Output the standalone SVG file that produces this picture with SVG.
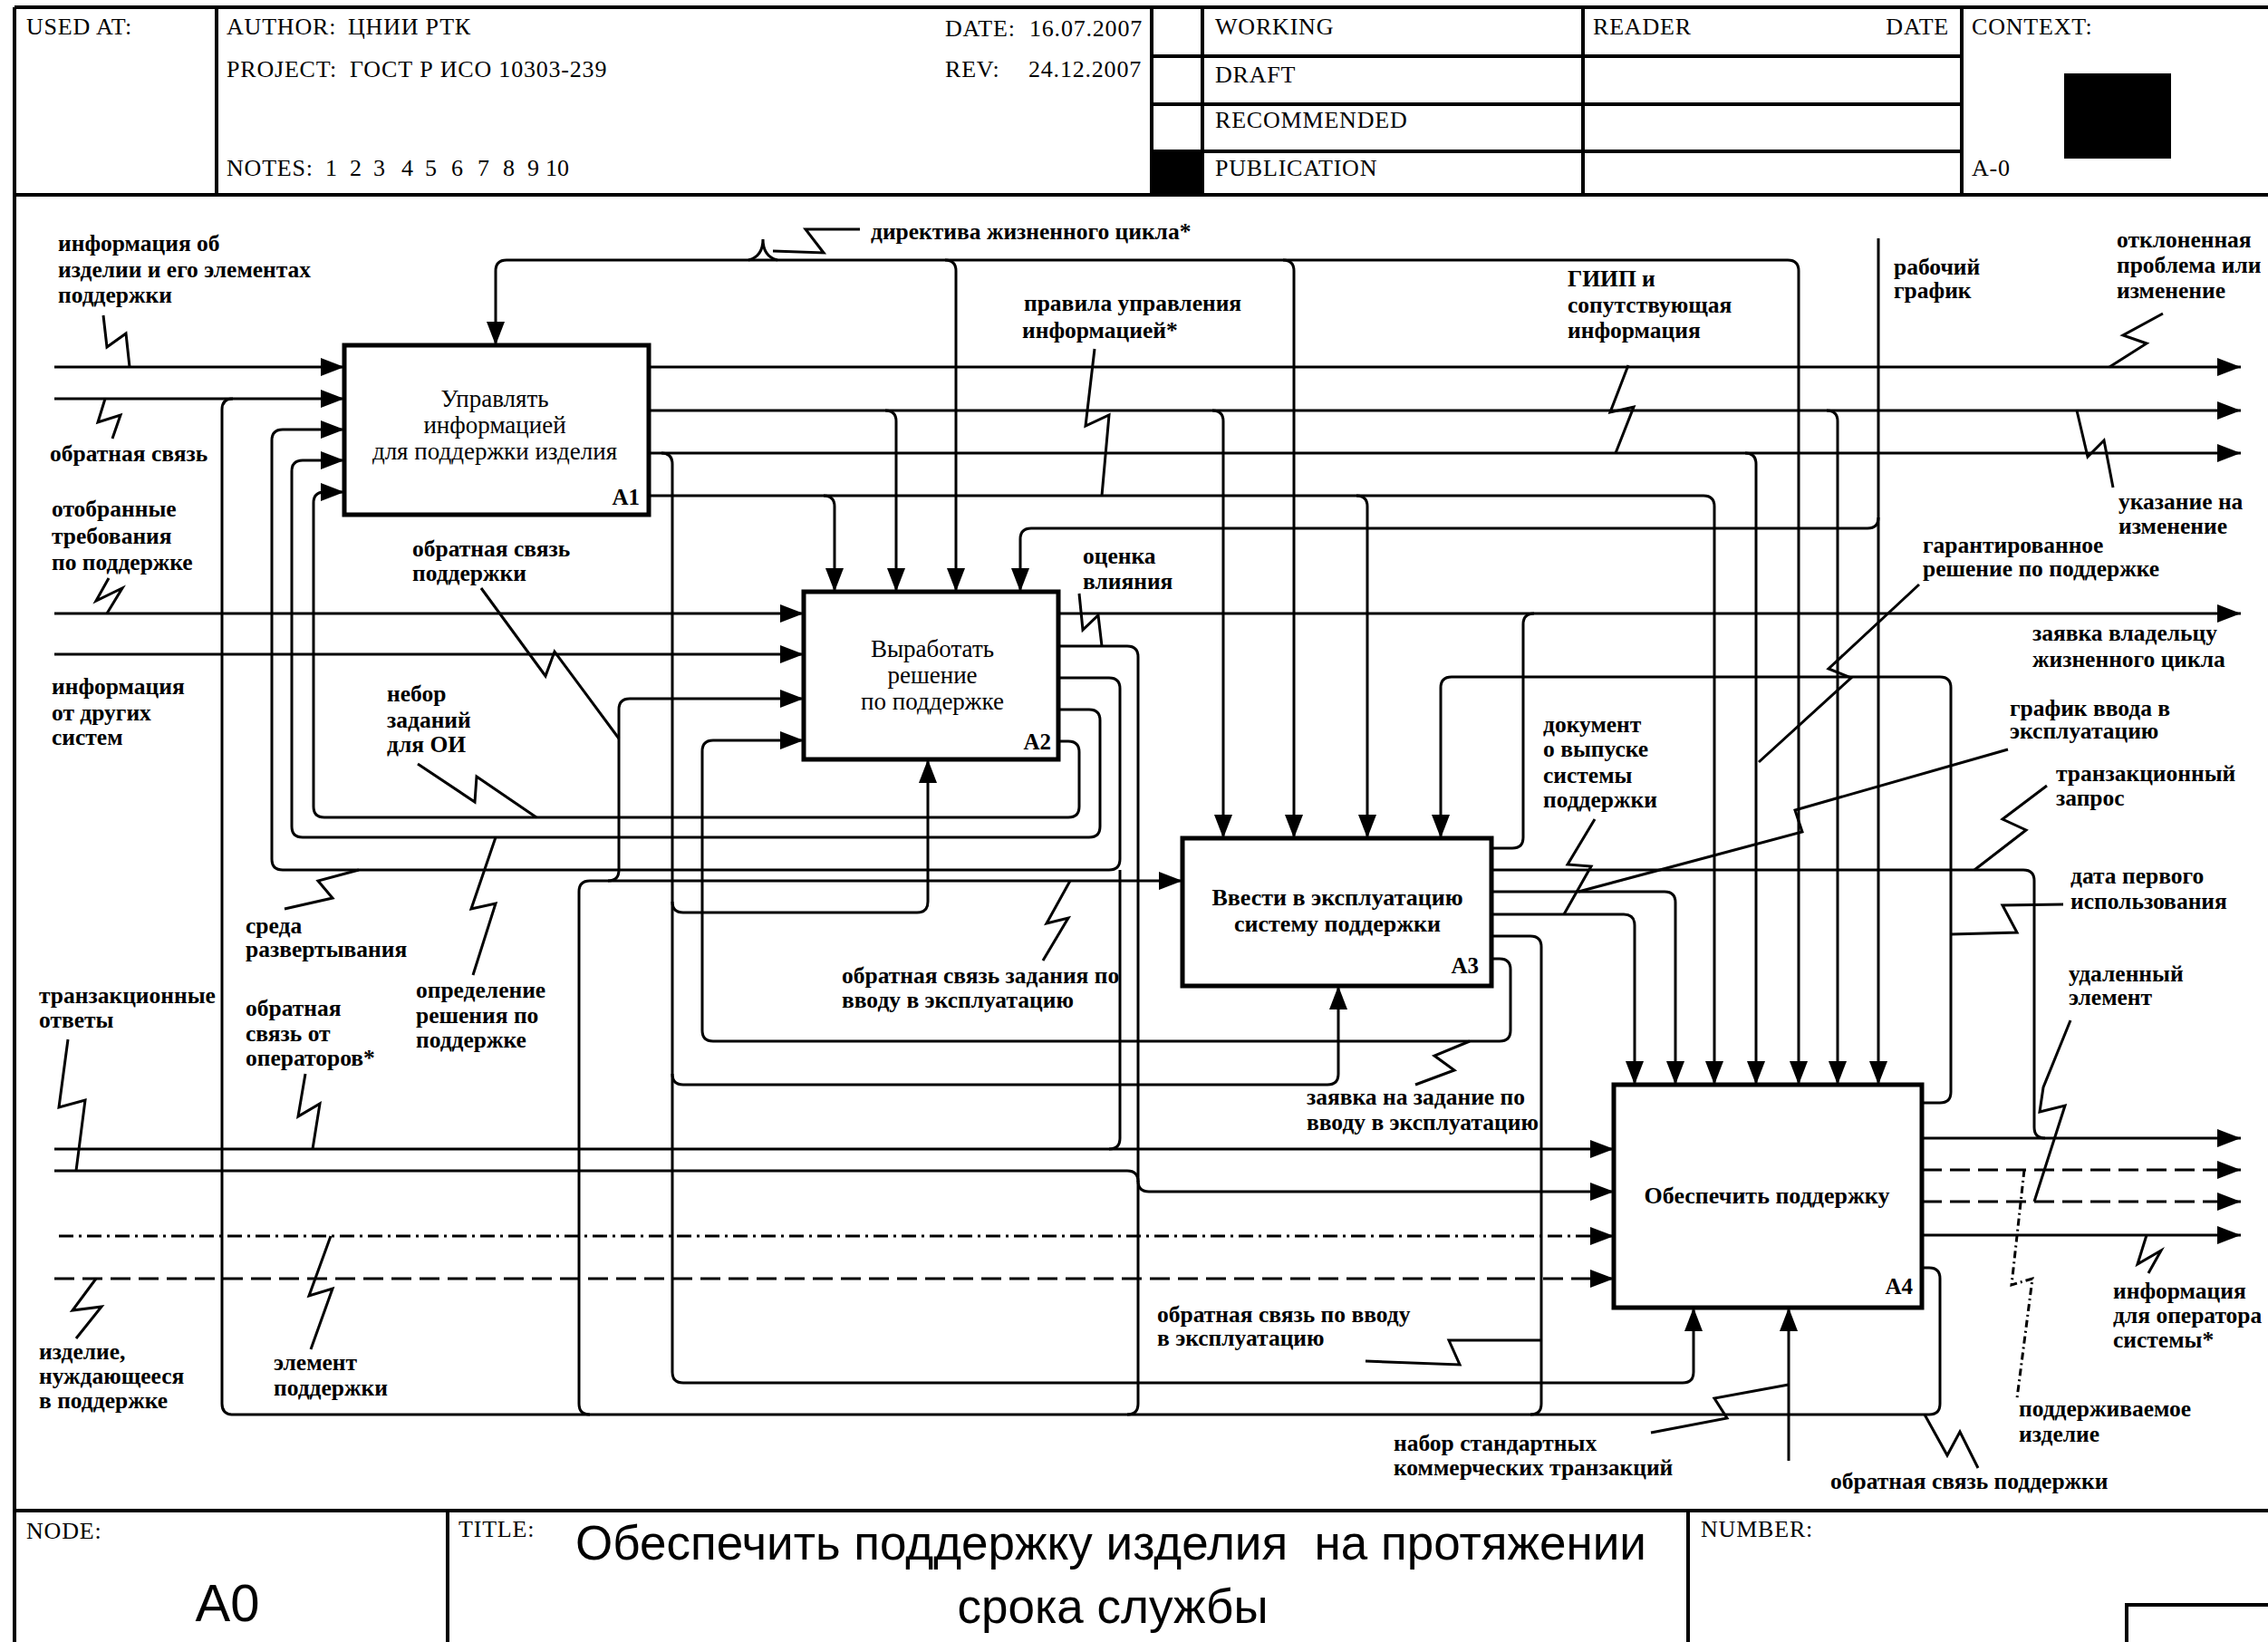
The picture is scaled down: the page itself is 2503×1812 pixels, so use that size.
<svg xmlns="http://www.w3.org/2000/svg" width="2503" height="1812" viewBox="0 0 2503 1812">
<defs>
<marker id="ah" viewBox="0 0 26 20" refX="26" refY="10" markerWidth="26" markerHeight="20" markerUnits="userSpaceOnUse" orient="auto"><path d="M0,0 L26,10 L0,20 z" fill="#000"/></marker>
<style>
.fr{fill:none;stroke:#000;stroke-width:4}
.ln{fill:none;stroke:#000;stroke-width:3}
.ar{fill:none;stroke:#000;stroke-width:3;marker-end:url(#ah)}
.sq{fill:none;stroke:#000;stroke-width:3;stroke-linejoin:miter}
.d1{stroke-dasharray:22 9}
.d2{stroke-dasharray:16 6 3 6}
.d3{stroke-dasharray:8 4 2 4}
.box{fill:#fff;stroke:#000;stroke-width:5}
.hd{font-family:"Liberation Serif",serif;font-size:26px;letter-spacing:0.8px;fill:#000}
.lb{font-family:"Liberation Serif",serif;font-size:25.5px;font-weight:bold;fill:#000}
.bx{font-family:"Liberation Serif",serif;font-size:27px;text-anchor:middle;fill:#000}
.bb{font-family:"Liberation Serif",serif;font-size:26px;font-weight:bold;text-anchor:middle;fill:#000}
.id{font-family:"Liberation Serif",serif;font-size:25px;font-weight:bold;text-anchor:end;fill:#000}
.ti{font-family:"Liberation Sans",Arial,sans-serif;font-size:53px;text-anchor:middle;fill:#000}
</style>
</defs>
<rect width="2503" height="1812" fill="#fff"/>

<g id="frame">
<path class="fr" d="M16,8 H2503 M16,8 V1812 M16,215 H2503 M239,8 V215 M1271,8 V215 M1327,8 V215 M1747,8 V215 M2165,8 V215 M1271,62 H2165 M1271,115 H2165 M1271,167 H2165"/>
<rect x="1271" y="167" width="56" height="48" fill="#000"/>
<rect x="2278" y="81" width="118" height="94" fill="#000"/>
<path class="fr" d="M16,1667 H2503 M494,1667 V1812 M1863,1667 V1812 M2347,1812 V1771 H2503"/>
<text class="hd" x="29" y="38">USED AT:</text>
<text class="hd" x="250" y="38">AUTHOR:</text>
<text class="hd" x="384" y="38">ЦНИИ РТК</text>
<text class="hd" x="250" y="85">PROJECT:</text>
<text class="hd" x="386" y="85">ГОСТ Р ИСО 10303-239</text>
<text class="hd" x="250" y="194">NOTES:</text>
<text class="hd" x="359 386 412 443 469 498 527 555 582 602 615" y="194">12345678910</text>
<text class="hd" x="1043" y="40">DATE:</text>
<text class="hd" x="1136" y="40">16.07.2007</text>
<text class="hd" x="1043" y="85">REV:</text>
<text class="hd" x="1135" y="85">24.12.2007</text>
<text class="hd" x="1341" y="38">WORKING</text>
<text class="hd" x="1341" y="91">DRAFT</text>
<text class="hd" x="1341" y="141">RECOMMENDED</text>
<text class="hd" x="1341" y="194">PUBLICATION</text>
<text class="hd" x="1758" y="38">READER</text>
<text class="hd" x="2151" y="38" text-anchor="end">DATE</text>
<text class="hd" x="2176" y="38">CONTEXT:</text>
<text class="hd" x="2176" y="194">A-0</text>
<text class="hd" x="29" y="1698">NODE:</text>
<text x="251" y="1789" font-family="Liberation Sans, Arial, sans-serif" font-size="58" text-anchor="middle">A0</text>
<text class="hd" x="506" y="1696">TITLE:</text>
<text class="ti" x="1226" y="1721" xml:space="preserve">Обеспечить поддержку изделия  на протяжении</text>
<text class="ti" x="1228" y="1791">срока службы</text>
<text class="hd" x="1877" y="1696">NUMBER:</text>
</g>

<g id="connectors">
<!-- A1 inputs -->
<path class="ar" d="M60,405 H380"/>
<path class="ar" d="M60,440 H380"/>
<path class="ln" d="M2121,1399 H2129 Q2141,1399 2141,1411 V1549 Q2141,1561 2129,1561 H257 Q245,1561 245,1549 V452 Q245,440 257,440"/>
<path class="ar" d="M1168,748 H1224 Q1236,748 1236,760 V948 Q1236,960 1224,960 H312 Q300,960 300,948 V486 Q300,474 312,474 H380"/>
<path class="ln" d="M1224,1268 Q1236,1268 1236,1256 V960"/>
<path class="ar" d="M60,1268 H1781"/>
<path class="ar" d="M1168,783 H1202 Q1214,783 1214,795 V912 Q1214,924 1202,924 H334 Q322,924 322,912 V520 Q322,508 334,508 H380"/>
<path class="ar" d="M1168,818 H1179 Q1191,818 1191,830 V890 Q1191,902 1179,902 H358 Q346,902 346,890 V555 Q346,543 358,543 H380"/>
<!-- A1 outputs -->
<path class="ar" d="M716,405 H2473"/>
<path class="ar" d="M716,453 H2473"/>
<path class="ar" d="M977,453 Q989,453 989,465 V653"/>
<path class="ar" d="M1338,453 Q1350,453 1350,465 V925"/>
<path class="ar" d="M2016,453 Q2028,453 2028,465 V1197"/>
<path class="ar" d="M716,500 H2473"/>
<path class="ar" d="M730,500 Q742,500 742,512 V1514 Q742,1526 754,1526 H1857 Q1869,1526 1869,1514 V1443"/>
<path class="ar" d="M742,995 Q742,1007 754,1007 H1012 Q1024,1007 1024,995 V838"/>
<path class="ar" d="M742,1185 Q742,1197 754,1197 H1465 Q1477,1197 1477,1185 V1088"/>
<path class="ar" d="M1926,500 Q1938,500 1938,512 V1197"/>
<path class="ar" d="M716,547 H1880 Q1892,547 1892,559 V1197"/>
<path class="ar" d="M909,547 Q921,547 921,559 V653"/>
<path class="ar" d="M1497,547 Q1509,547 1509,559 V925"/>
<!-- directive -->
<path class="ar" d="M559,287 H1973 Q1985,287 1985,299 V1197"/>
<path class="ar" d="M559,287 Q547,287 547,299 V381"/>
<path class="ar" d="M1043,287 Q1055,287 1055,299 V653"/>
<path class="ar" d="M1416,287 Q1428,287 1428,299 V925"/>
<!-- work schedule -->
<path class="ar" d="M2073,263 V1197"/>
<path class="ar" d="M2073,571 Q2073,583 2061,583 H1138 Q1126,583 1126,595 V653"/>
<!-- A2 -->
<path class="ar" d="M1168,677 H2473"/>
<path class="ln" d="M1646,936 H1669 Q1681,936 1681,924 V689 Q1681,677 1693,677"/>
<path class="ar" d="M60,677 H887"/>
<path class="ar" d="M60,722 H887"/>
<path class="ar" d="M651,1561 Q639,1561 639,1549 V984 Q639,972 651,972 H1305"/>
<path class="ar" d="M671,972 Q683,972 683,960 V783 Q683,771 695,771 H887"/>
<path class="ar" d="M1646,1058 H1655 Q1667,1058 1667,1070 V1137 Q1667,1149 1655,1149 H787 Q775,1149 775,1137 V829 Q775,817 787,817 H887"/>
<path class="ar" d="M1168,713 H1244 Q1256,713 1256,725 V1303 Q1256,1315 1268,1315 H1781"/>
<path class="ln" d="M1256,1303 V1549 Q1256,1561 1244,1561"/>
<path class="ln" d="M60,1292 H1244 Q1256,1292 1256,1304"/>
<!-- A3 outputs -->
<path class="ln" d="M1646,960 H2233 Q2245,960 2245,972 V1244 Q2245,1256 2257,1256"/>
<path class="ar" d="M1646,984 H1837 Q1849,984 1849,996 V1197"/>
<path class="ar" d="M1646,1009 H1792 Q1804,1009 1804,1021 V1197"/>
<path class="ln" d="M1646,1033 H1689 Q1701,1033 1701,1045 V1549 Q1701,1561 1689,1561"/>
<!-- A4 -->
<path class="ar" d="M2121,1217 H2141 Q2153,1217 2153,1205 V759 Q2153,747 2141,747 H1602 Q1590,747 1590,759 V925"/>
<path class="ar" d="M2121,1256 H2473"/>
<path class="ar d1" d="M2121,1291 H2473"/>
<path class="ar d1" d="M2121,1326 H2473"/>
<path class="ar" d="M2121,1363 H2473"/>
<path class="ar" d="M1974,1612 V1443"/>
<path class="ar d2" d="M65,1364 H1781"/>
<path class="ar d1" d="M60,1411 H1781"/>
<!-- squiggles -->
<polyline class="sq" points="114,348 118,383 139,368 143,405"/>
<polyline class="sq" points="124,484 133,458 108,466 116,440"/>
<polyline class="sq" points="120,638 106,663 135,649 118,677"/>
<polyline class="sq" points="531,649 602,746 612,719 683,815"/>
<polyline class="sq" points="461,843 524,885 526,857 592,902"/>
<polyline class="sq" points="547,924 520,1003 547,997 522,1076"/>
<polyline class="sq" points="396,960 351,972 367,991 314,1003"/>
<polyline class="sq" points="75,1147 65,1222 94,1214 84,1292"/>
<polyline class="sq" points="337,1185 329,1232 353,1218 345,1268"/>
<polyline class="sq" points="365,1364 341,1430 367,1422 343,1489"/>
<polyline class="sq" points="106,1411 80,1446 112,1442 84,1477"/>
<polyline class="sq" points="949,253 889,253 909,279 853,277"/>
<path class="sq" d="M826,287 Q842,283 842,264 Q842,283 858,287"/>
<polyline class="sq" points="1208,385 1198,470 1224,458 1216,547"/>
<polyline class="sq" points="1797,403 1777,455 1803,449 1783,500"/>
<polyline class="sq" points="2387,346 2343,370 2369,379 2328,405"/>
<polyline class="sq" points="2332,538 2322,486 2304,504 2292,453"/>
<polyline class="sq" points="1191,655 1195,695 1212,679 1216,713"/>
<polyline class="sq" points="2118,645 2018,738 2043,748 1941,841"/>
<polyline class="sq" points="2216,827 1981,894 1989,918 1742,984"/>
<polyline class="sq" points="2259,867 2210,904 2236,916 2179,960"/>
<polyline class="sq" points="2277,998 2210,999 2226,1029 2153,1031"/>
<polyline class="sq" points="1760,904 1730,954 1756,956 1726,1009"/>
<polyline class="sq" points="1622,1149 1583,1165 1605,1181 1562,1197"/>
<polyline class="sq" points="1181,972 1155,1019 1179,1013 1151,1060"/>
<polyline class="sq" points="1507,1502 1611,1506 1599,1479 1701,1479"/>
<polyline class="sq" points="1822,1581 1906,1565 1892,1543 1974,1528"/>
<polyline class="sq" points="2124,1561 2149,1606 2163,1580 2183,1620"/>
<polyline class="sq" points="2285,1126 2255,1200 2251,1227 2279,1220 2245,1326"/>
<polyline class="sq d3" points="2234,1291 2220,1418 2243,1411 2226,1543"/>
<polyline class="sq" points="2369,1363 2359,1395 2385,1380 2371,1405"/>
</g>

<g id="A1">
<rect class="box" x="380" y="381" width="336" height="187"/>
<text class="bx" x="546" y="449">Управлять</text>
<text class="bx" x="546" y="478">информацией</text>
<text class="bx" x="546" y="507">для поддержки изделия</text>
<text class="id" x="706" y="557">A1</text>
</g>
<g id="A2">
<rect class="box" x="887" y="653" width="281" height="185"/>
<text class="bx" x="1029" y="725">Выработать</text>
<text class="bx" x="1029" y="754">решение</text>
<text class="bx" x="1029" y="783">по поддержке</text>
<text class="id" x="1160" y="827">A2</text>
</g>
<g id="A3">
<rect class="box" x="1305" y="925" width="341" height="163"/>
<text class="bb" x="1476" y="999">Ввести в эксплуатацию</text>
<text class="bb" x="1476" y="1028">систему поддержки</text>
<text class="id" x="1632" y="1074">A3</text>
</g>
<g id="A4">
<rect class="box" x="1781" y="1197" width="340" height="246"/>
<text class="bb" x="1950" y="1328">Обеспечить поддержку</text>
<text class="id" x="2111" y="1428">A4</text>
</g>

<g id="labels">
<text class="lb" x="64" y="277">информация об</text>
<text class="lb" x="64" y="306">изделии и его элементах</text>
<text class="lb" x="64" y="334">поддержки</text>
<text class="lb" x="55" y="509">обратная связь</text>
<text class="lb" x="57" y="570">отобранные</text>
<text class="lb" x="57" y="600">требования</text>
<text class="lb" x="57" y="629">по поддержке</text>
<text class="lb" x="57" y="766">информация</text>
<text class="lb" x="57" y="795">от других</text>
<text class="lb" x="57" y="822">систем</text>
<text class="lb" x="455" y="614">обратная связь</text>
<text class="lb" x="455" y="641">поддержки</text>
<text class="lb" x="427" y="774">небор</text>
<text class="lb" x="427" y="803">заданий</text>
<text class="lb" x="427" y="830">для ОИ</text>
<text class="lb" x="271" y="1030">среда</text>
<text class="lb" x="271" y="1056">развертывания</text>
<text class="lb" x="43" y="1107">транзакционные</text>
<text class="lb" x="43" y="1134">ответы</text>
<text class="lb" x="271" y="1121">обратная</text>
<text class="lb" x="271" y="1149">связь от</text>
<text class="lb" x="271" y="1176">операторов*</text>
<text class="lb" x="459" y="1101">определение</text>
<text class="lb" x="459" y="1129">решения по</text>
<text class="lb" x="459" y="1156">поддержке</text>
<text class="lb" x="43" y="1500">изделие,</text>
<text class="lb" x="43" y="1527">нуждающееся</text>
<text class="lb" x="43" y="1554">в поддержке</text>
<text class="lb" x="302" y="1512">элемент</text>
<text class="lb" x="302" y="1540">поддержки</text>
<text class="lb" x="961" y="264">директива жизненного цикла*</text>
<text class="lb" x="1130" y="343">правила управления</text>
<text class="lb" x="1128" y="373">информацией*</text>
<text class="lb" x="1730" y="316">ГИИП и</text>
<text class="lb" x="1730" y="345">сопутствующая</text>
<text class="lb" x="1730" y="373">информация</text>
<text class="lb" x="2090" y="303">рабочий</text>
<text class="lb" x="2090" y="329">график</text>
<text class="lb" x="2336" y="273">отклоненная</text>
<text class="lb" x="2336" y="301">проблема или</text>
<text class="lb" x="2336" y="329">изменение</text>
<text class="lb" x="2338" y="562">указание на</text>
<text class="lb" x="2338" y="589">изменение</text>
<text class="lb" x="2122" y="610">гарантированное</text>
<text class="lb" x="2122" y="636">решение по поддержке</text>
<text class="lb" x="2243" y="707">заявка владельцу</text>
<text class="lb" x="2243" y="736">жизненного цикла</text>
<text class="lb" x="2218" y="790">график ввода в</text>
<text class="lb" x="2218" y="815">эксплуатацию</text>
<text class="lb" x="2269" y="862">транзакционный</text>
<text class="lb" x="2269" y="889">запрос</text>
<text class="lb" x="2285" y="975">дата первого</text>
<text class="lb" x="2285" y="1003">использования</text>
<text class="lb" x="2283" y="1083">удаленный</text>
<text class="lb" x="2283" y="1109">элемент</text>
<text class="lb" x="2332" y="1433">информация</text>
<text class="lb" x="2332" y="1460">для оператора</text>
<text class="lb" x="2332" y="1487">системы*</text>
<text class="lb" x="2228" y="1563">поддерживаемое</text>
<text class="lb" x="2228" y="1591">изделие</text>
<text class="lb" x="2020" y="1643">обратная связь поддержки</text>
<text class="lb" x="1538" y="1601">набор стандартных</text>
<text class="lb" x="1538" y="1628">коммерческих транзакций</text>
<text class="lb" x="1277" y="1459">обратная связь по вводу</text>
<text class="lb" x="1277" y="1485">в эксплуатацию</text>
<text class="lb" x="1442" y="1219">заявка на задание по</text>
<text class="lb" x="1442" y="1247">вводу в эксплуатацию</text>
<text class="lb" x="929" y="1085">обратная связь задания по</text>
<text class="lb" x="929" y="1112">вводу в эксплуатацию</text>
<text class="lb" x="1703" y="808">документ</text>
<text class="lb" x="1703" y="835">о выпуске</text>
<text class="lb" x="1703" y="864">системы</text>
<text class="lb" x="1703" y="891">поддержки</text>
<text class="lb" x="1195" y="622">оценка</text>
<text class="lb" x="1195" y="650">влияния</text>
</g>
</svg>
